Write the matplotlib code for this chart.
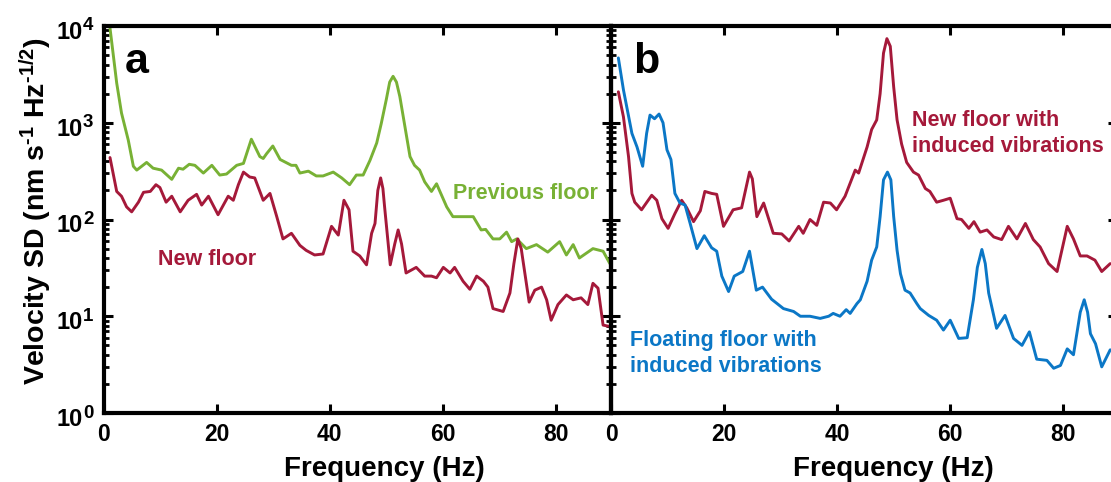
import matplotlib
matplotlib.use('Agg')
import matplotlib.pyplot as plt
from matplotlib.ticker import FixedLocator, NullLocator, LogLocator, NullFormatter
from matplotlib.transforms import blended_transform_factory, offset_copy

plt.rcParams['font.family'] = ['Liberation Sans', 'DejaVu Sans']
plt.rcParams['font.weight'] = 'bold'
plt.rcParams['mathtext.fontset'] = 'custom'
plt.rcParams['mathtext.rm'] = 'Liberation Sans:bold'
plt.rcParams['mathtext.bf'] = 'Liberation Sans:bold'
plt.rcParams['mathtext.it'] = 'Liberation Sans:bold'
plt.rcParams['mathtext.sf'] = 'Liberation Sans:bold'
plt.rcParams['mathtext.default'] = 'bf'

# ---------------- data ----------------
prev_f = [1.06, 2.25, 3.1, 4.3, 5.2, 5.8, 7.55, 8.7, 10.2, 12.0, 13.2, 14.0, 15.1, 16.1, 17.6, 19.1,
          20.5, 21.7, 23.5, 24.7, 26.1, 27.6, 28.2, 28.8, 29.9, 31.2, 33.2, 34.0, 34.7, 36.2, 37.6,
          38.8, 40.6, 42.1, 43.5, 44.7, 45.9, 47.1, 48.3, 49.1, 50.0, 50.6, 51.2, 51.8, 52.4, 53.3,
          54.2, 55.0, 55.9, 56.8, 58.0, 58.9, 60.7, 61.8, 63.5, 65.4, 66.8, 67.6, 68.9, 70.1, 71.3,
          72.2, 73.1, 74.8, 76.6, 78.6, 80.7, 81.9, 83.1, 84.2, 86.6, 88.4, 89.6]
prev_v = [9550, 2570, 1260, 661, 355, 324, 389, 339, 324, 260, 339, 331, 372, 363, 302, 363,
          288, 295, 363, 380, 676, 447, 427, 479, 575, 417, 363, 363, 302, 316, 282,
          282, 309, 269, 229, 288, 288, 407, 617, 977, 1738, 2630, 3020, 2630, 1862, 912,
          447, 363, 324, 245, 195, 234, 135, 107, 107, 107, 78, 79, 63, 63, 74,
          59, 63, 50, 55, 46, 59, 43, 55, 40, 50, 47, 35]

new_f = [1.06, 2.25, 3.1, 4.0, 4.9, 6.1, 7.0, 8.2, 9.2, 9.9, 11.0, 12.0, 13.5, 14.9, 16.4, 17.3,
         18.5, 20.2, 22.0, 22.9, 23.8, 24.7, 25.8, 26.7, 28.2, 29.4, 30.6, 31.7, 33.2, 34.7, 35.8,
         37.3, 38.8, 40.3, 41.5, 42.5, 43.4, 44.1, 45.3, 46.5, 47.4, 48.0, 48.5, 49.0, 49.4, 49.7,
         50.7, 51.5, 52.1, 52.7, 53.5, 55.3, 56.8, 58.0, 58.9, 60.1, 61.3, 62.1, 63.6, 64.8, 66.0,
         67.2, 68.0, 68.9, 70.7, 71.9, 72.6, 73.3, 73.9, 74.2, 75.3, 76.3, 77.5, 78.4, 79.2, 80.4,
         81.9, 83.1, 84.5, 85.7, 86.6, 87.5, 88.4, 89.3]
new_v = [437, 195, 174, 135, 120, 151, 191, 195, 229, 214, 151, 174, 120, 158, 182, 141,
         174, 112, 174, 158, 229, 309, 275, 269, 158, 186, 107, 63, 72, 54, 48,
         43, 44, 85, 69, 158, 126, 47, 42, 34, 72, 91, 200, 269, 209, 135,
         34, 56, 78, 56, 28, 32, 26, 26, 25, 32, 28, 32, 23, 19, 26,
         23, 20, 12, 11.2, 17.4, 35, 63, 50, 38, 14, 18.6, 20, 14.8, 9.1, 13.2,
         16.6, 14.8, 15.5, 13.2, 21.9, 19.5, 8.1, 7.9]

newvib_f = [1.3, 2.2, 3.1, 3.7, 4.2, 5.4, 7.2, 8.1, 9.0, 10.1, 11.3, 12.5, 13.4, 14.6, 15.8, 16.6,
            17.8, 18.7, 19.9, 21.6, 23.1, 24.5, 25.0, 25.8, 27.0, 28.7, 30.2, 31.5, 33.2, 34.0,
            35.2, 36.4, 37.6, 38.8, 39.9, 41.4, 43.2, 43.8, 45.3, 46.1, 47.0, 47.6, 48.2, 48.8,
            49.4, 50.0, 50.6, 51.4, 52.3, 53.5, 54.4, 55.6, 56.4, 57.6, 58.8, 60.0, 61.2, 62.0,
            63.3, 64.2, 65.3, 66.5, 67.7, 69.1, 70.3, 71.8, 73.3, 74.7, 75.9, 77.4, 78.9, 80.7,
            81.8, 83.0, 84.2, 85.6, 86.8, 88.3]
newvib_v = [2090, 1150, 447, 186, 151, 126, 178, 158, 102, 81, 115, 158, 132, 95, 123, 195,
            186, 182, 85, 126, 132, 309, 263, 107, 148, 72, 71, 60, 85, 72,
            100, 87, 151, 148, 126, 174, 324, 302, 562, 851, 1070, 1995, 5250, 7400,
            6170, 2344, 1070, 603, 389, 309, 288, 209, 195, 151, 158, 166, 102, 100,
            81, 95, 74, 78, 66, 62, 85, 63, 91, 62, 52, 35, 29, 85,
            63, 42, 42, 38, 29, 35]

float_f = [1.3, 2.2, 3.7, 4.6, 5.6, 6.3, 6.9, 7.7, 8.5, 9.2, 9.9, 10.6, 11.3, 12.2, 13.1, 14.0,
           15.2, 16.5, 17.8, 18.7, 19.6, 20.8, 21.8, 23.3, 24.5, 25.7, 26.8, 28.4, 30.5, 32.3,
           33.5, 35.2, 37.0, 38.5, 39.3, 40.5, 41.6, 42.3, 43.5, 44.1, 45.3, 46.1, 47.0, 47.6,
           48.2, 48.9, 49.5, 50.0, 50.6, 51.2, 52.0, 52.9, 54.1, 54.7, 56.2, 57.6, 58.8, 60.0,
           61.5, 63.0, 64.1, 64.8, 65.6, 66.2, 66.8, 68.2, 69.7, 71.2, 72.7, 74.0, 75.3, 77.1,
           78.3, 79.5, 80.7, 81.8, 83.0, 83.7, 84.3, 84.8, 85.7, 86.8, 88.3]
float_v = [4680, 2190, 776, 562, 355, 776, 1200, 1100, 1230, 1000, 525, 417, 186, 148, 141, 91,
           50, 68, 51, 47, 26, 18, 26, 29, 47, 18.6, 20, 15, 12, 11.2,
           10, 10, 9.5, 10, 10.7, 10, 11.7, 10.7, 13.5, 14.8, 23, 38, 52, 107,
           257, 309, 257, 107, 48, 27.5, 18.6, 17.4, 13.5, 12, 10.2, 9.1, 7.2, 9.1,
           5.9, 6.0, 14.8, 32, 49, 35, 17.4, 7.5, 10.2, 5.9, 5.0, 6.9, 3.6, 3.5,
           2.9, 3.1, 4.6, 4.0, 11, 14.8, 11, 6.6, 5.2, 3.0, 4.5]

x_ticks = [0, 20, 40, 60, 80]
y_ticks = [1, 10, 100, 1000, 10000]
y_exps = ['0', '1', '2', '3', '4']

GREEN = '#78B135'
RED = '#A5193A'
BLUE = '#0B77C6'

# ---------------- figure ----------------
W, H = 1111, 482
fig = plt.figure(figsize=(W / 100, H / 100), dpi=100)


def rect(l, r, t, b):
    return [l / W, 1 - b / H, (r - l) / W, (b - t) / H]


axa = fig.add_axes(rect(104, 611, 26, 413))
axb = fig.add_axes(rect(611, 1117, 26, 413))

for ax, xmax in ((axa, 89.8), (axb, 89.5)):
    ax.set_yscale('log')
    ax.set_ylim(1, 1e4)
    ax.set_xlim(0, xmax)
    ax.xaxis.set_major_locator(FixedLocator(x_ticks))
    ax.xaxis.set_minor_locator(NullLocator())
    ax.yaxis.set_major_locator(FixedLocator(y_ticks))
    ax.yaxis.set_minor_locator(LogLocator(base=10, subs=range(2, 10)))
    ax.yaxis.set_minor_formatter(NullFormatter())
    for s in ax.spines.values():
        s.set_linewidth(3)
    ax.tick_params(which='both', direction='in', top=True, right=True, color='black')
    ax.tick_params(which='major', length=6.5, width=2.2, labelsize=16.5, pad=7)
    ax.tick_params(which='minor', length=3.8, width=2.0)
    ax.set_xticklabels([str(t) for t in x_ticks])
    ax.tick_params(labelleft=False)
    ax.set_facecolor('none')

# y tick labels as "10" with a large superscript exponent
trans = blended_transform_factory(axa.transAxes, axa.transData)
for v, e in zip(y_ticks, y_exps):
    t1 = offset_copy(trans, fig=fig, x=-21, y=-13, units='dots')
    axa.text(0, v, '10', transform=t1, ha='right', va='baseline', fontsize=17, fontweight='bold')
    t2 = offset_copy(trans, fig=fig, x=-21, y=-4.5, units='dots')
    axa.text(0, v, e, transform=t2, ha='left', va='baseline', fontsize=13.5, fontweight='bold')

line_kw = dict(lw=2.1, solid_joinstyle='round', solid_capstyle='round')
axa.plot(prev_f, prev_v, color=GREEN, **line_kw)
axa.plot(new_f, new_v, color=RED, **line_kw)
axb.plot(newvib_f, newvib_v, color=RED, **line_kw)
axb.plot(float_f, float_v, color=BLUE, **line_kw)

fs_ann = 15.5
axa.text(61.8, 163, 'Previous floor', color=GREEN, fontsize=fs_ann, fontweight='bold', va='baseline')
axa.text(9.6, 33.8, 'New floor', color=RED, fontsize=fs_ann, fontweight='bold', va='baseline')
axb.text(53.2, 925, 'New floor with', color=RED, fontsize=fs_ann, fontweight='bold', va='baseline')
axb.text(53.2, 501, 'induced vibrations', color=RED, fontsize=fs_ann, fontweight='bold', va='baseline')
axb.text(3.4, 4.92, 'Floating floor with', color=BLUE, fontsize=fs_ann, fontweight='bold', va='baseline')
axb.text(3.4, 2.63, 'induced vibrations', color=BLUE, fontsize=fs_ann, fontweight='bold', va='baseline')

axa.text(3.7, 3300, 'a', fontsize=31, fontweight='bold', va='baseline')
axb.text(3.9, 3300, 'b', fontsize=31, fontweight='bold', va='baseline')

fig.text(384 / W, 1 - 476 / H, 'Frequency (Hz)', fontsize=20, fontweight='bold', ha='center', va='baseline')
fig.text(893 / W, 1 - 476 / H, 'Frequency (Hz)', fontsize=20, fontweight='bold', ha='center', va='baseline')
fig.text(36 / W, 1 - 211 / H, r'Velocity SD (nm s$^{\text{-}1}$ Hz$^{\text{-}1/2}$)', fontsize=20.5,
         fontweight='bold', rotation=90, ha='center', va='center')

fig.savefig('out.png', dpi=100)
